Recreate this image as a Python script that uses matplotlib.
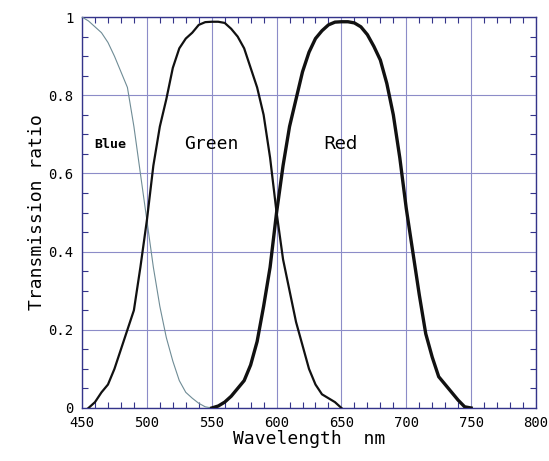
import matplotlib
matplotlib.use("Agg")
import matplotlib.pyplot as plt
from matplotlib.ticker import MultipleLocator, FixedLocator

blue_wl = [450, 455, 460, 465, 470, 475, 480, 485, 490, 495, 500, 505, 510, 515, 520, 525, 530, 535, 540, 545, 550]
blue_t = [1.0, 0.99, 0.975, 0.96, 0.935, 0.90, 0.86, 0.82, 0.72, 0.60, 0.48, 0.36, 0.26, 0.18, 0.12, 0.07, 0.04, 0.025, 0.012, 0.003, 0.0]

green_wl = [455, 460, 465, 470, 475, 480, 485, 490, 495, 500, 505, 510, 515, 520, 525, 530, 535, 540, 545, 550,
            555, 560, 565, 570, 575, 580, 585, 590, 595, 600, 605, 610, 615, 620, 625, 630, 635, 640, 645, 650]
green_t = [0.0, 0.015, 0.04, 0.06, 0.10, 0.15, 0.20, 0.25, 0.36, 0.48, 0.62, 0.72, 0.79, 0.87, 0.92, 0.945, 0.96, 0.98, 0.987, 0.988,
           0.988, 0.985, 0.97, 0.95, 0.92, 0.87, 0.82, 0.75, 0.64, 0.50, 0.38, 0.30, 0.22, 0.16, 0.10, 0.06, 0.035, 0.025, 0.015, 0.0]

red_wl = [550, 555, 560, 565, 570, 575, 580, 585, 590, 595, 600, 605, 610, 615, 620, 625, 630, 635, 640, 645, 650,
          655, 660, 665, 670, 675, 680, 685, 690, 695, 700, 705, 710, 715, 720, 725, 730, 735, 740, 745, 750]
red_t = [0.0, 0.005, 0.015, 0.03, 0.05, 0.07, 0.11, 0.17, 0.26, 0.36, 0.50, 0.62, 0.72, 0.79, 0.86, 0.91, 0.945, 0.965, 0.98, 0.987, 0.988,
         0.988, 0.985, 0.975, 0.955, 0.925, 0.89, 0.83, 0.75, 0.64, 0.51, 0.40, 0.29, 0.19, 0.13, 0.08, 0.06, 0.04, 0.02, 0.003, 0.0]

x_ticks = [450, 500, 550, 600, 650, 700, 750, 800]
y_ticks = [0, 0.2, 0.4, 0.6, 0.8, 1]
y_tick_labels = ["0", "0.2", "0.4", "0.6", "0.8", "1"]

mono = "DejaVu Sans Mono"
navy = "#34348a"
gridc = "#8c8cc8"

fig = plt.figure(figsize=(5.49, 4.61), dpi=100)
ax = fig.add_axes([0.1494, 0.115, 0.8269, 0.848])

ax.plot(blue_wl, blue_t, color="#6f8c96", lw=0.8, zorder=3)
ax.plot(green_wl, green_t, color="#111111", lw=1.6, zorder=3)
ax.plot(red_wl, red_t, color="#111111", lw=2.4, zorder=3)

ax.set_xlim(450, 800)
ax.set_ylim(0, 1)
ax.xaxis.set_major_locator(FixedLocator(x_ticks))
ax.yaxis.set_major_locator(FixedLocator(y_ticks))
ax.set_yticklabels(y_tick_labels)
ax.xaxis.set_minor_locator(MultipleLocator(10))
ax.yaxis.set_minor_locator(MultipleLocator(0.05))
ax.tick_params(which="both", direction="in", top=True, right=True, color=navy)
ax.tick_params(which="major", length=0, labelsize=10, pad=6)
ax.tick_params(which="minor", length=4, width=0.8)
for lab in ax.get_xticklabels() + ax.get_yticklabels():
    lab.set_family(mono)
ax.grid(True, which="major", color=gridc, lw=0.8)
for s in ax.spines.values():
    s.set_color(navy)
    s.set_linewidth(1.0)

ax.set_xlabel("Wavelength  nm", family=mono, fontsize=13, labelpad=0)
ax.set_ylabel("Transmission ratio", family=mono, fontsize=13, labelpad=2)

ax.text(471.5, 0.675, "Blue", family=mono, fontsize=9.5, fontweight="bold", ha="center", va="center")
ax.text(549.5, 0.675, "Green", family=mono, fontsize=13, ha="center", va="center")
ax.text(649, 0.675, "Red", family="DejaVu Sans", fontsize=13, ha="center", va="center")

fig.savefig("out.png", dpi=100)
